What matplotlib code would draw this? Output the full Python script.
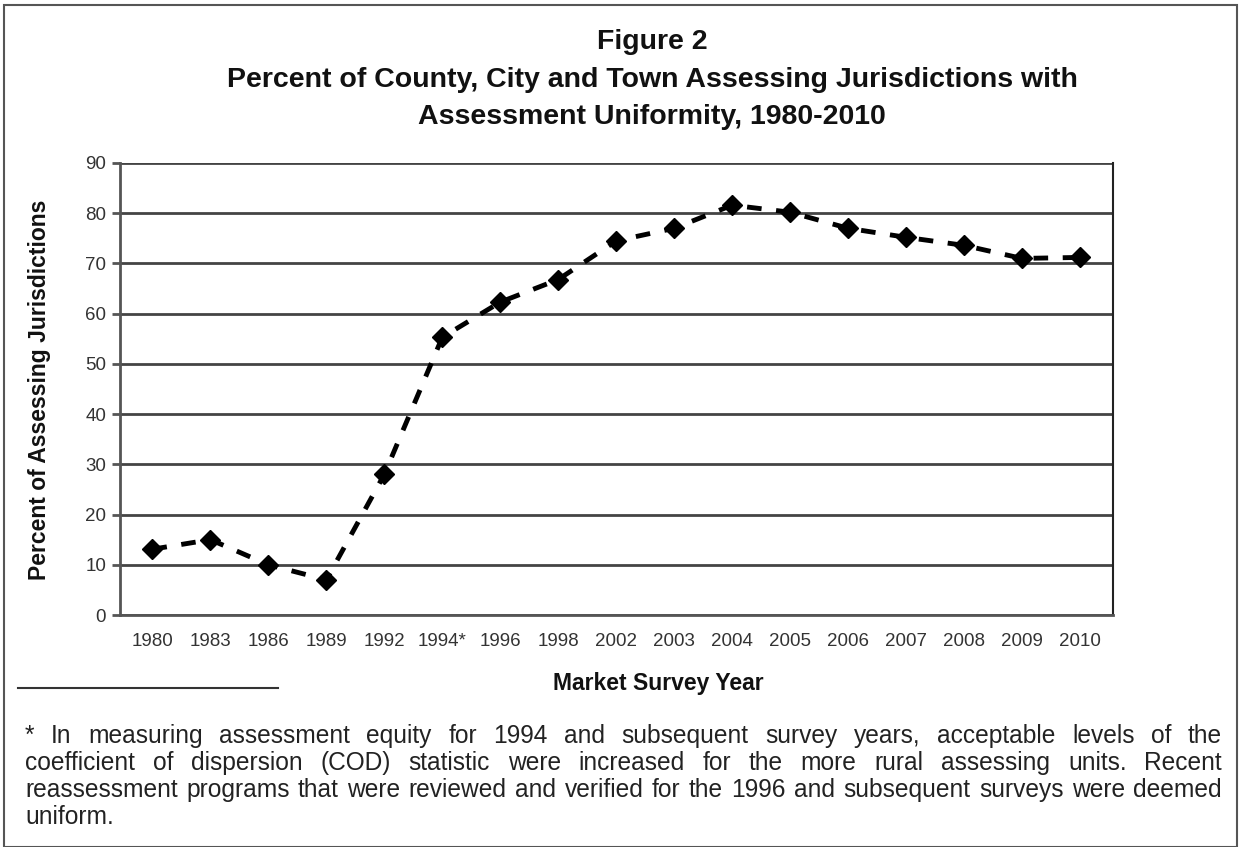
import numpy as np
import matplotlib.pyplot as plt
from matplotlib import font_manager
from matplotlib.patches import Rectangle

plt.rcParams['font.family'] = ['Liberation Sans', 'DejaVu Sans']

# data
years = ['1980', '1983', '1986', '1989', '1992', '1994*', '1996', '1998', '2002',
         '2003', '2004', '2005', '2006', '2007', '2008', '2009', '2010']
pct = [13.1, 15.0, 10.0, 7.0, 28.0, 55.3, 62.3, 66.8, 74.5,
       77.0, 81.6, 80.2, 77.0, 75.2, 73.6, 71.0, 71.2]
yticks = [0, 10, 20, 30, 40, 50, 60, 70, 80, 90]

title_lines = ['Figure 2',
               'Percent of County, City and Town Assessing Jurisdictions with',
               'Assessment Uniformity, 1980-2010']
footnote = ['* In measuring assessment equity for 1994 and subsequent survey years, acceptable levels of the',
            'coefficient of dispersion (COD) statistic were increased for the more rural assessing units.  Recent',
            'reassessment programs that were reviewed and verified for the 1996 and subsequent surveys were deemed',
            'uniform.']

installed = {f.name for f in font_manager.fontManager.ttflist}
narrow = 'Liberation Sans Narrow' if 'Liberation Sans Narrow' in installed else 'Liberation Sans'

W, H = 1239, 847
fig = plt.figure(figsize=(W / 100, H / 100), dpi=100)

# outer frame
fig.patches.append(Rectangle((4 / W, 0), (W - 6) / W, (H - 5) / H, transform=fig.transFigure,
                             fill=False, edgecolor='#555555', linewidth=1.5))

ax = fig.add_axes([120 / W, 1 - 615 / H, (1113 - 120) / W, (615 - 163) / H])
x_pos = np.arange(len(years))
ax.plot(x_pos, pct, color='black', linestyle=(0, (3, 3)), linewidth=3.5,
        marker='D', markersize=10, zorder=3)

ax.set_xlim(-0.56, len(years) - 1 + 0.57)
ax.set_ylim(0, 90)
ax.set_yticks(yticks)
ax.set_xticks(x_pos, years)
ax.yaxis.grid(True, color='#444444', linewidth=2)
ax.set_axisbelow(True)
ax.tick_params(axis='x', length=0, pad=13, labelsize=13.5, colors='#333333')
ax.tick_params(axis='y', length=6, width=2, color='#555555', pad=4, labelsize=13.5, labelcolor='#333333')
for s in ['left', 'bottom']:
    ax.spines[s].set_color('#555555')
    ax.spines[s].set_linewidth(2)
ax.spines['top'].set_visible(False)
ax.spines['right'].set_color('#222222')
ax.spines['right'].set_linewidth(1.5)

fig.text(40 / W, 1 - 390 / H, 'Percent of Assessing Jurisdictions', rotation=90,
         ha='center', va='center', fontsize=16.5, fontweight='bold', color='#111111')
fig.text(658 / W, 1 - 683 / H, 'Market Survey Year', ha='center', va='center',
         fontsize=16.5, fontweight='bold', color='#111111')

for line, yy in zip(title_lines, [42, 80, 117]):
    fig.text(652 / W, 1 - yy / H, line, ha='center', va='center', fontsize=20.5,
             fontweight='bold', color='#111111')

# footnote separator
fig.add_artist(plt.Line2D([18 / W, 278 / W], [1 - 688 / H, 1 - 688 / H],
                          transform=fig.transFigure, color='#333333', linewidth=1.5))

# justified footnote
fig.canvas.draw()
renderer = fig.canvas.get_renderer()
x0, x1 = 25, 1222
probe = fig.text(0, 0, footnote[2], fontsize=10, family=narrow)
natural = probe.get_window_extent(renderer).width
probe.remove()
fs = min(18.5, 10 * (x1 - x0) * 0.985 / natural)
for i, (line, yy) in enumerate(zip(footnote, [736, 763, 790, 817])):
    if i == len(footnote) - 1:
        fig.text(x0 / W, 1 - yy / H, line, ha='left', va='center', fontsize=fs,
                 family=narrow, color='#222222')
        continue
    texts = []
    widths = []
    for w in line.split():
        t = fig.text(0, 1 - yy / H, w, ha='left', va='center', fontsize=fs,
                     family=narrow, color='#222222')
        texts.append(t)
        widths.append(t.get_window_extent(renderer).width)
    gap = (x1 - x0 - sum(widths)) / (len(texts) - 1)
    cur = x0
    for t, wd in zip(texts, widths):
        t.set_x(cur / W)
        cur += wd + gap

fig.savefig('out.png', dpi=100)
